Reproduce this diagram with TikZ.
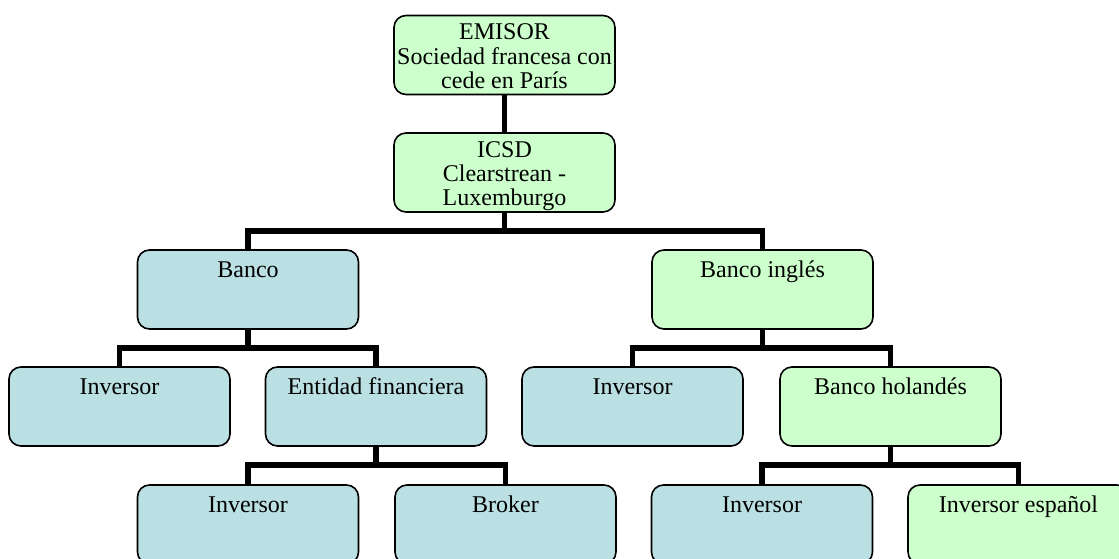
\documentclass[tikz,border=0pt]{standalone}
\usepackage{fontspec}
\setmainfont{Liberation Serif}
\usetikzlibrary{calc}
\definecolor{boxblue}{HTML}{BBE0E3}
\definecolor{boxgreen}{HTML}{CCFFCC}
\begin{document}
\begin{tikzpicture}[x=0.75pt,y=-0.75pt,
  box/.style={draw=black, line width=1.2pt, rounded corners=9pt,
    minimum width=165.75pt, minimum height=59.25pt, inner sep=0pt, outer sep=0pt},
  bluebox/.style={box, fill=boxblue},
  greenbox/.style={box, fill=boxgreen},
  lbl/.style={anchor=base, inner sep=0pt, font=\fontsize{18}{18}\selectfont},
  conn/.style={draw=black, line width=3.8pt, line join=miter}]
\useasboundingbox (0,0) rectangle (1119,559);

% boxes of the chart
\node[greenbox] (emisor)   at (504.5,55)    {};
\node[greenbox] (icsd)     at (504.5,172.5) {};
\node[bluebox]  (banco)    at (248,289.5)   {};
\node[greenbox] (bancoing) at (762.5,289.5) {};
\node[bluebox]  (invA)     at (119.5,406.5) {};
\node[bluebox]  (entidad)  at (376,406.5)   {};
\node[bluebox]  (invB)     at (632.5,406.5) {};
\node[greenbox] (bancohol) at (890.5,406.5) {};
\node[bluebox]  (invC)     at (248,524.5)   {};
\node[bluebox]  (broker)   at (505.5,524.5) {};
\node[bluebox]  (invD)     at (762,524.5)   {};
\node[greenbox] (invE)     at (1018.5,524.5) {};

% texts, set near the top of each box
\node[lbl] (emisorT) at ($(emisor.north)+(0,24.5)$)
  {\begin{tabular}[t]{@{}c@{}}EMISOR\\Sociedad francesa con\\cede en París\end{tabular}};
\node[lbl] (icsdT) at ($(icsd.north)+(0,24.5)$)
  {\begin{tabular}[t]{@{}c@{}}ICSD\\Clearstrean -\\Luxemburgo\end{tabular}};
\node[lbl] (bancoT)    at ($(banco.north)+(0,27.5)$)    {Banco};
\node[lbl] (bancoingT) at ($(bancoing.north)+(0,27.5)$) {Banco inglés};
\node[lbl] (invAT)     at ($(invA.north)+(0,27.5)$)     {Inversor};
\node[lbl] (entidadT)  at ($(entidad.north)+(0,27.5)$)  {Entidad financiera};
\node[lbl] (invBT)     at ($(invB.north)+(0,27.5)$)     {Inversor};
\node[lbl] (bancoholT) at ($(bancohol.north)+(0,27.5)$) {Banco holandés};
\node[lbl] (invCT)     at ($(invC.north)+(0,27.5)$)     {Inversor};
\node[lbl] (brokerT)   at ($(broker.north)+(0,27.5)$)   {Broker};
\node[lbl] (invDT)     at ($(invD.north)+(0,27.5)$)     {Inversor};
\node[lbl] (invET)     at ($(invE.north)+(0,27.5)$)     {Inversor español};

% connectors
\draw[conn] (emisor.south) -- (icsd.north);
\draw[conn] (icsd.south) -- ++(0,19) -| (banco.north);
\draw[conn] (icsd.south) -- ++(0,19) -| (bancoing.north);
\draw[conn] (banco.south) -- ++(0,19) -| (invA.north);
\draw[conn] (banco.south) -- ++(0,19) -| (entidad.north);
\draw[conn] (bancoing.south) -- ++(0,19) -| (invB.north);
\draw[conn] (bancoing.south) -- ++(0,19) -| (bancohol.north);
\draw[conn] (entidad.south) -- ++(0,19) -| (invC.north);
\draw[conn] (entidad.south) -- ++(0,19) -| (broker.north);
\draw[conn] (bancohol.south) -- ++(0,19) -| (invD.north);
\draw[conn] (bancohol.south) -- ++(0,19) -| (invE.north);
\end{tikzpicture}
\end{document}
